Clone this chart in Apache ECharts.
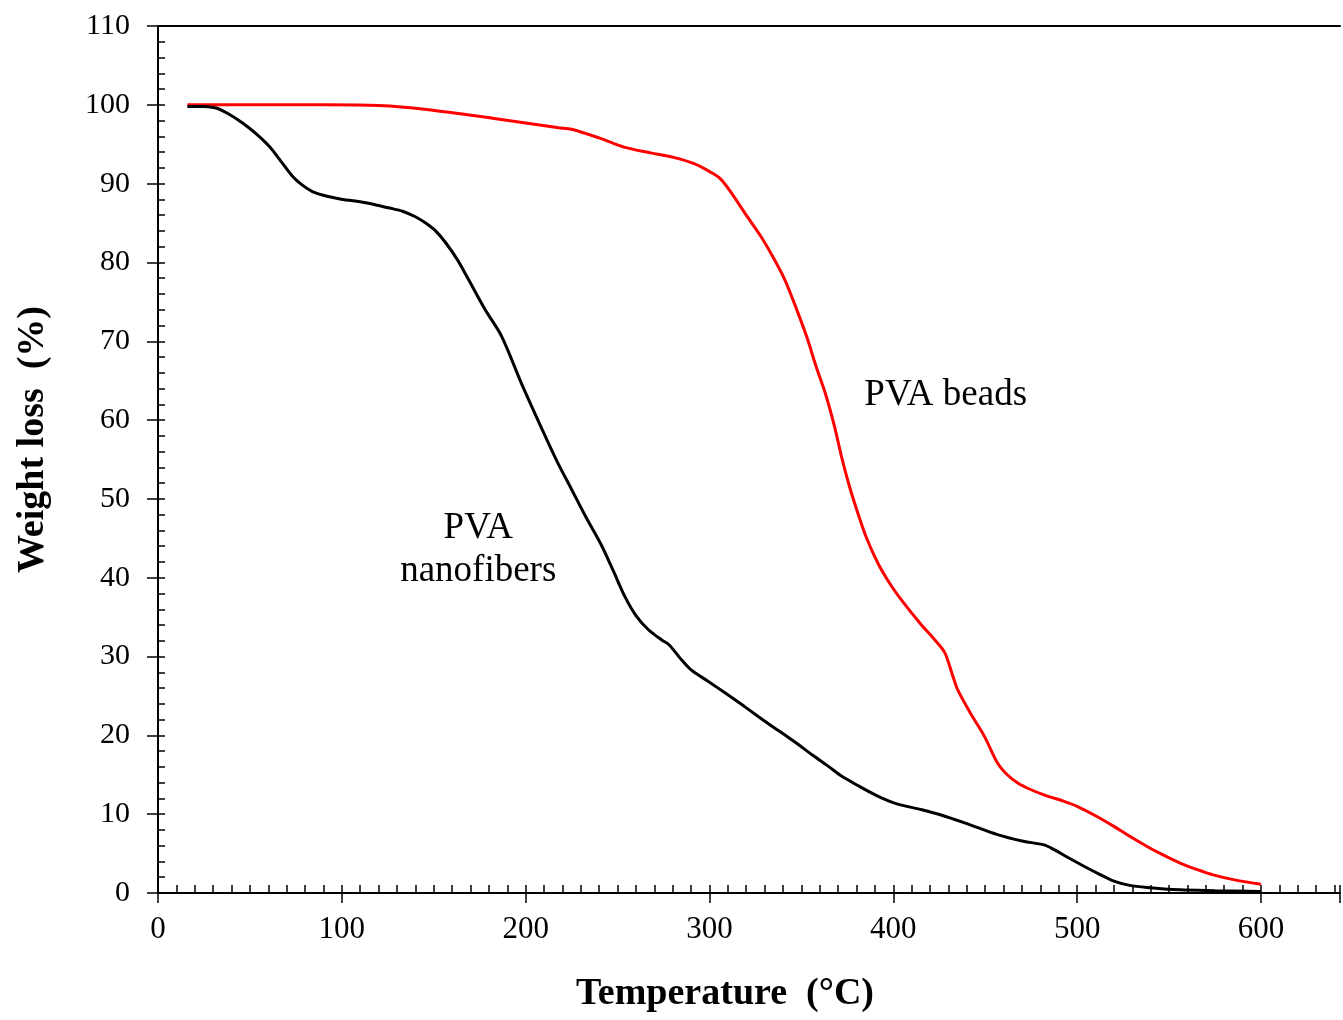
<!DOCTYPE html>
<html>
<head>
<meta charset="utf-8">
<script src="https://cdn.jsdelivr.net/npm/echarts@6/dist/echarts.min.js"></script>
<style>html,body{margin:0;padding:0;background:#fff;}#c{width:1343px;height:1020px;}</style>
</head>
<body>
<div id="c"></div>
<script>
// ---- data ----
const beadsT = [16,40,91,120,146,182,218,225,240,254,268,281,292,301,306,312,320,328,335,341,347,353,358,363,368,372,376,380.7,385,391.5,398,405,415,423,428,432,435,442,449.5,456.7,462,467.5,475,483.8,492,500,510,520,530,538,547,556,565,574,585,600];
const beadsW = [100,100,100,99.9,99.4,98.3,97.1,96.9,95.8,94.6,93.9,93.3,92.5,91.4,90.6,88.8,86.0,83.3,80.5,77.8,74.3,70.5,66.8,63.4,59.2,55.2,51.7,48.2,45.3,41.9,39.3,37.0,34.1,32,30.5,27.8,25.8,22.8,19.9,16.5,15,14.0,13.1,12.3,11.7,11.0,9.8,8.45,7.0,5.9,4.8,3.8,3.0,2.3,1.7,1.1];
const fibersT = [16,25,31.7,38,46,53,60.6,67,73.3,78,84,92,100.4,110,118.5,126,133,140,145.6,151,156.5,163,169,178,187,198,209,217,225,233,241.5,248,254,260,266.8,274,278,284,290,299,308.4,317,326.5,335,342,348,356,364.5,372,381,391.5,402,415,426,440,456.7,470,482,487.5,495,503.7,512,520,528,538,556,575,600];
const fibersW = [99.8,99.8,99.6,98.9,97.7,96.4,94.7,92.8,90.9,89.9,89.0,88.4,88.0,87.7,87.3,86.9,86.5,85.8,85.0,84.0,82.5,80.3,77.8,74.0,70.6,64.5,58.8,54.8,51.2,47.6,44.0,40.7,37.6,35.2,33.4,32.1,31.5,29.8,28.3,26.9,25.4,24.0,22.4,21.0,19.9,18.9,17.5,16.1,14.8,13.6,12.3,11.3,10.6,9.9,8.8,7.4,6.6,6.1,5.5,4.5,3.4,2.4,1.5,1.0,0.7,0.4,0.3,0.2];
const xTitle = 'Temperature  (°C)';
const yTitle = 'Weight loss  (%)';
const beadsLabel = 'PVA beads';
const fibersLabel = 'PVA\nnanofibers';
const beadsLabelAt = [428.5, 63.1];
const fibersLabelAt = [174.2, 43.6];
const xMax = 643;   // plot area runs off the right edge of the picture

const FONT = '"Liberation Serif", "Times New Roman", serif';
const zip = (a, b) => a.map((v, i) => [v, b[i]]);

const chart = echarts.init(document.getElementById('c'), null, {renderer: 'canvas'});
const xBase = {type: 'value', min: 0, max: xMax, splitLine: {show: false}};
const yBase = {type: 'value', min: 0, max: 110, splitLine: {show: false}};
const tickStyle = {color: '#000', width: 1.5};
chart.setOption({
  animation: false,
  backgroundColor: '#fff',
  grid: {left: 158, right: 0, top: 26, bottom: 127, containLabel: false},
  xAxis: [
    Object.assign({}, xBase, {
      position: 'bottom', interval: 100,
      axisLine: {show: true, lineStyle: {color: '#000', width: 2}},
      axisTick: {show: true, inside: false, length: 10, lineStyle: tickStyle},
      axisLabel: {show: true, margin: 21, color: '#000', fontFamily: FONT, fontSize: 31,
        formatter: v => (v % 100 === 0 ? String(v) : '')},
      name: xTitle, nameLocation: 'middle', nameGap: 82,
      nameTextStyle: {fontFamily: FONT, fontSize: 38, fontWeight: 'bold', color: '#000', padding: [0, 48, 0, 0]}
    }),
    Object.assign({}, xBase, {
      position: 'bottom', interval: 10,
      axisLine: {show: false},
      axisTick: {show: true, inside: true, length: 8, lineStyle: tickStyle},
      axisLabel: {show: false}
    }),
    Object.assign({}, xBase, {
      position: 'top', interval: 100,
      axisLine: {show: true, lineStyle: {color: '#000', width: 2}},
      axisTick: {show: false}, axisLabel: {show: false}
    })
  ],
  yAxis: [
    Object.assign({}, yBase, {
      position: 'left', interval: 10,
      axisLine: {show: true, lineStyle: {color: '#000', width: 2}},
      axisTick: {show: true, inside: false, length: 11, lineStyle: tickStyle},
      axisLabel: {show: true, margin: 28, color: '#000', fontFamily: FONT, fontSize: 30},
      name: yTitle, nameLocation: 'middle', nameGap: 106,
      nameTextStyle: {fontFamily: FONT, fontSize: 38, fontWeight: 'bold', color: '#000', padding: [0, 0, 0, 40]}
    }),
    Object.assign({}, yBase, {
      position: 'left', interval: 2,
      axisLine: {show: false},
      axisTick: {show: true, inside: true, length: 7, lineStyle: tickStyle},
      axisLabel: {show: false}
    })
  ],
  series: [
    {
      name: 'PVA beads', type: 'line', xAxisIndex: 0, yAxisIndex: 0,
      data: zip(beadsT, beadsW), showSymbol: false, smooth: 0.3,
      lineStyle: {color: '#ff0000', width: 3},
      markPoint: {symbol: 'circle', symbolSize: 0, silent: true,
        label: {show: true, position: 'inside', formatter: beadsLabel, color: '#000', fontFamily: FONT, fontSize: 37},
        data: [{coord: beadsLabelAt}]}
    },
    {
      name: 'PVA nanofibers', type: 'line', xAxisIndex: 0, yAxisIndex: 0,
      data: zip(fibersT, fibersW), showSymbol: false, smooth: 0.3,
      lineStyle: {color: '#000000', width: 3},
      markPoint: {symbol: 'circle', symbolSize: 0, silent: true,
        label: {show: true, position: 'inside', formatter: fibersLabel, color: '#000', fontFamily: FONT, fontSize: 37, lineHeight: 43, align: 'center'},
        data: [{coord: fibersLabelAt}]}
    }
  ]
});
</script>
</body>
</html>
